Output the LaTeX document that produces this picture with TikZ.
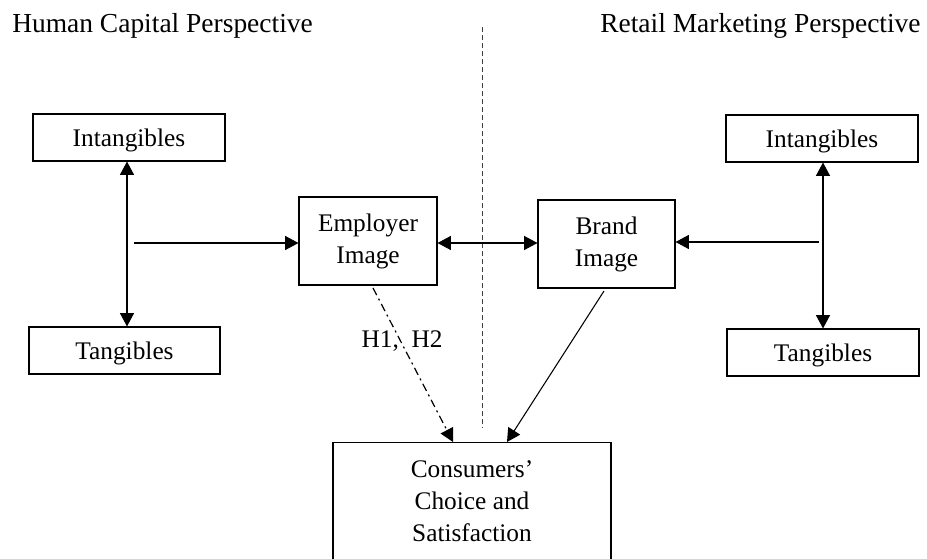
\documentclass[tikz,border=0pt]{standalone}
\usepackage{fontspec}
\setmainfont{Liberation Serif}
\usetikzlibrary{arrows.meta}
\begin{document}
\begin{tikzpicture}[x=0.75pt,y=-0.75pt,
  box/.style={draw,line width=0.8pt,rectangle,inner sep=0pt,align=center,
    font=\fontsize{19}{24}\selectfont},
  onebox/.style={box,text depth=0pt},
  lbl/.style={inner sep=0pt,align=center,font=\fontsize{19}{24}\selectfont},
  ttl/.style={inner sep=0pt,anchor=base west,font=\fontsize{20.6}{24}\selectfont},
  link/.style={line width=0.8pt,-{Triangle[length=10pt,width=10.5pt]}},
  biglink/.style={line width=0.8pt,{Triangle[length=10pt,width=10.5pt]}-{Triangle[length=10pt,width=10.5pt]}}]
\clip (0,0) rectangle (927,559);
\fill[white] (0,0) rectangle (927,559);

% headings
\node[ttl] (hcp) at (12,33) {Human Capital Perspective};
\node[ttl] (rmp) at (600,33) {Retail Marketing Perspective};

% divider between the two perspectives
\coordinate (dtop) at (482,27);
\coordinate (dbot) at (482,428);
\draw[line width=0.7pt,black!75,dash pattern=on 3.75pt off 2.25pt] (dtop) -- (dbot);

% boxes (sizes in pt: 1 unit = 0.75pt)
\node[onebox,minimum width=144pt,minimum height=35.25pt] (linT) at (129,137.5) {Intangibles};
\node[onebox,minimum width=143.25pt,minimum height=35.25pt] (ltan) at (124.5,350.5) {Tangibles};
\node[box,minimum width=103.5pt,minimum height=66pt] (emp) at (368,241) {Employer\\Image};
\node[box,minimum width=102.75pt,minimum height=66pt] (brand) at (606.5,244) {Brand\\Image};
\node[onebox,minimum width=144pt,minimum height=35.25pt] (rinT) at (822,138.5) {Intangibles};
\node[onebox,minimum width=144pt,minimum height=35.25pt] (rtan) at (823,352.5) {Tangibles};
\node[box,minimum width=208.5pt,minimum height=105pt,anchor=north] (cons) at (472,442) {};
\node[lbl] (consText) at (472,501) {Consumers’\\Choice and\\Satisfaction};

% left side links
\coordinate (lv) at (127,0);
\draw[biglink] (lv |- linT.south) -- (lv |- ltan.north);
\coordinate (lstart) at (134,243);
\draw[link] (lstart) -- (lstart -| emp.west);

% employer image <-> brand image
\draw[biglink] (emp.east |- lstart) -- (brand.west |- lstart);

% right side links
\coordinate (rv) at (823,0);
\draw[biglink] (rv |- rinT.south) -- (rv |- rtan.north);
\coordinate (rstart) at (819,242);
\draw[link] (rstart) -- (rstart -| brand.east);

% links into consumers' choice
\coordinate (eFrom) at (373,288);
\coordinate (eTo) at (453,442);
\draw[link,line width=0.9pt,dash pattern=on 6pt off 3pt on 1.5pt off 3pt] (eFrom) -- (eTo);
\node[lbl] (hyp) at (402,341) {H1,\ \ H2};
\coordinate (bFrom) at (604,291);
\coordinate (bTo) at (507,442);
\draw[link] (bFrom) -- (bTo);
\end{tikzpicture}
\end{document}
